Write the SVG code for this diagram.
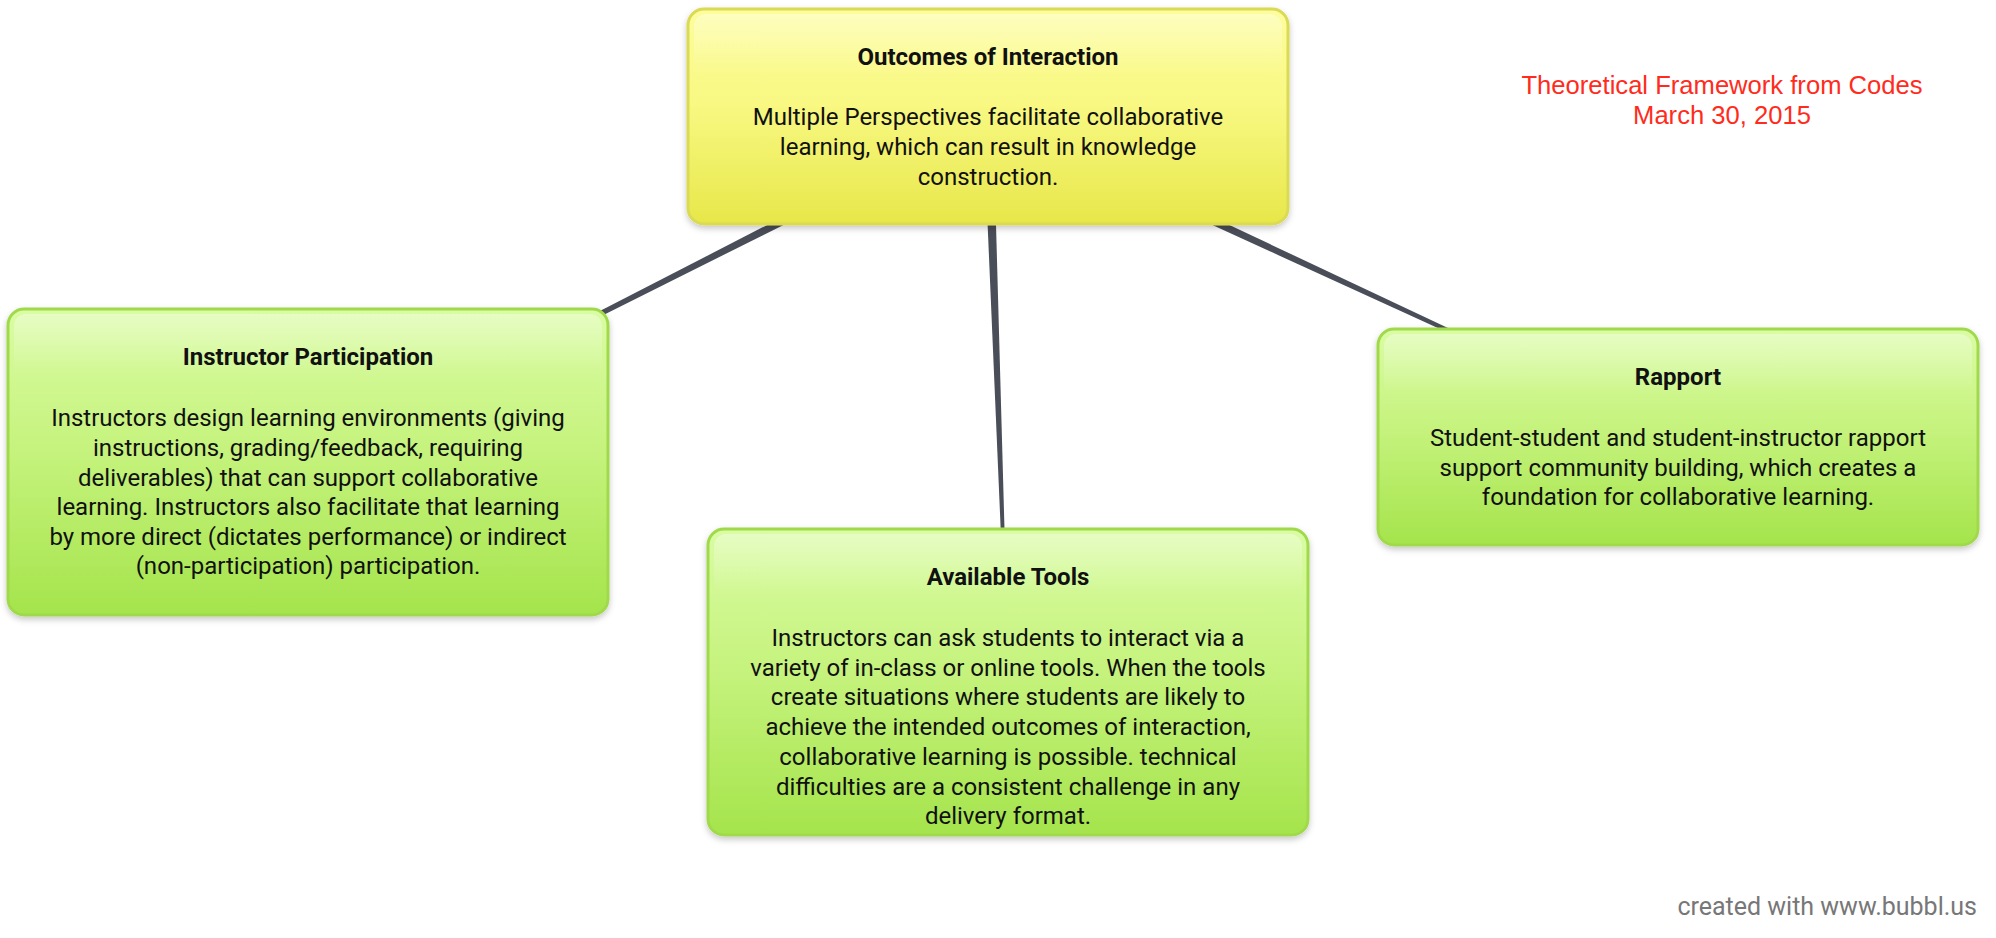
<svg xmlns="http://www.w3.org/2000/svg" width="1996" height="938" viewBox="0 0 1996 938">
<defs>
<linearGradient id="gy" x1="0" y1="0" x2="0" y2="1">
<stop offset="0" stop-color="#fdfd9e"/>
<stop offset="0.45" stop-color="#f8f882"/>
<stop offset="1" stop-color="#e7e74a"/>
</linearGradient>
<linearGradient id="gg" x1="0" y1="0" x2="0" y2="1">
<stop offset="0" stop-color="#dafca4"/>
<stop offset="0.45" stop-color="#c6f37e"/>
<stop offset="1" stop-color="#a5e44c"/>
</linearGradient>
<linearGradient id="hl" x1="0" y1="0" x2="0" y2="1">
<stop offset="0" stop-color="#ffffff" stop-opacity="0.35"/>
<stop offset="1" stop-color="#ffffff" stop-opacity="0"/>
</linearGradient>
<filter id="sh" x="-5%" y="-5%" width="110%" height="115%">
<feDropShadow dx="0" dy="3" stdDeviation="3" flood-color="#000" flood-opacity="0.22"/>
</filter>
</defs>
<style>
.t{font-family:Roboto,"Liberation Sans",sans-serif;font-size:24px;fill:#111;text-anchor:middle}
.b{font-weight:bold}
.yel{fill:url(#gy);stroke:#dada55;stroke-width:3;filter:url(#sh)}
.grn{fill:url(#gg);stroke:#a0da4c;stroke-width:3;filter:url(#sh)}
.hl{fill:url(#hl)}
.con{fill:#4a4e58}
.red{font-family:"Liberation Sans",Arial,sans-serif;font-size:25.6px;fill:#ff2b1c;text-anchor:middle}
.wm{font-family:Roboto,"Liberation Sans",sans-serif;font-size:25px;fill:#777;text-anchor:end}
</style>
<rect width="1996" height="938" fill="#ffffff"/>
<g id="connectors">
<polygon class="con" points="990.26,121.46 308.34,462.67 307.66,461.33 985.74,112.54"/>
<polygon class="con" points="993,116.8 1008.75,681.97 1007.25,682.03 983,117.2"/>
<polygon class="con" points="985.9,121.54 1677.68,437.68 1678.32,436.32 990.1,112.46"/>
</g>
<g id="outcomes">
<rect class="yel" x="688" y="9" width="600" height="215" rx="16"/>
<rect class="hl" x="694" y="14" width="588" height="60" rx="12"/>
<text class="t b" x="988" y="65">Outcomes of Interaction</text>
<text class="t" x="988" y="125">Multiple Perspectives facilitate collaborative</text>
<text class="t" x="988" y="155">learning, which can result in knowledge</text>
<text class="t" x="988" y="185">construction.</text>
</g>
<g id="instructor">
<rect class="grn" x="8" y="309" width="600" height="306" rx="16"/>
<rect class="hl" x="14" y="314" width="588" height="60" rx="12"/>
<text class="t b" x="308" y="365">Instructor Participation</text>
<text class="t" x="308" y="426">Instructors design learning environments (giving</text>
<text class="t" x="308" y="456">instructions, grading/feedback, requiring</text>
<text class="t" x="308" y="486">deliverables) that can support collaborative</text>
<text class="t" x="308" y="515">learning. Instructors also facilitate that learning</text>
<text class="t" x="308" y="545">by more direct (dictates performance) or indirect</text>
<text class="t" x="308" y="574">(non-participation) participation.</text>
</g>
<g id="tools">
<rect class="grn" x="708" y="529" width="600" height="306" rx="16"/>
<rect class="hl" x="714" y="534" width="588" height="60" rx="12"/>
<text class="t b" x="1008" y="585">Available Tools</text>
<text class="t" x="1008" y="646">Instructors can ask students to interact via a</text>
<text class="t" x="1008" y="676">variety of in-class or online tools. When the tools</text>
<text class="t" x="1008" y="705">create situations where students are likely to</text>
<text class="t" x="1008" y="735">achieve the intended outcomes of interaction,</text>
<text class="t" x="1008" y="765">collaborative learning is possible. technical</text>
<text class="t" x="1008" y="795">difficulties are a consistent challenge in any</text>
<text class="t" x="1008" y="824">delivery format.</text>
</g>
<g id="rapport">
<rect class="grn" x="1378" y="329" width="600" height="216" rx="16"/>
<rect class="hl" x="1384" y="334" width="588" height="60" rx="12"/>
<text class="t b" x="1678" y="385">Rapport</text>
<text class="t" x="1678" y="446">Student-student and student-instructor rapport</text>
<text class="t" x="1678" y="476">support community building, which creates a</text>
<text class="t" x="1678" y="505">foundation for collaborative learning.</text>
</g>
<g id="title">
<text class="red" x="1722" y="94">Theoretical Framework from Codes</text>
<text class="red" x="1722" y="124">March 30, 2015</text>
</g>
<text class="wm" x="1977" y="915">created with www.bubbl.us</text>
</svg>
